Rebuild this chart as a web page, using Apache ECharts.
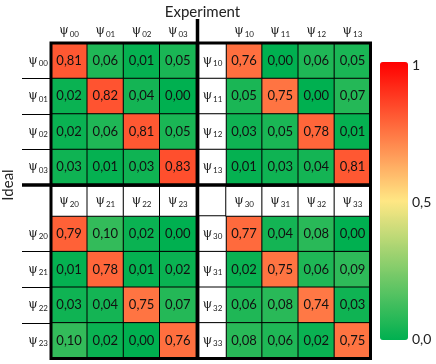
<!DOCTYPE html>
<html>
<head>
<meta charset="utf-8">
<script src="https://cdn.jsdelivr.net/npm/echarts@6/dist/echarts.min.js"></script>
<style>
html, body { margin: 0; padding: 0; background: #fff; }
#chart { width: 436px; height: 364px; }
</style>
</head>
<body>
<div id="chart"></div>
<script>
// subscripts of the basis states, per block
var psi0 = ['00', '01', '02', '03'];
var psi1 = ['10', '11', '12', '13'];
var psi2 = ['20', '21', '22', '23'];
var psi3 = ['30', '31', '32', '33'];

// rows = ideal state (top to bottom), columns = measured state
var blockTL = [
    [0.81, 0.06, 0.01, 0.05],
    [0.02, 0.82, 0.04, 0.00],
    [0.02, 0.06, 0.81, 0.05],
    [0.03, 0.01, 0.03, 0.83]
];
var blockTR = [
    [0.76, 0.00, 0.06, 0.05],
    [0.05, 0.75, 0.00, 0.07],
    [0.03, 0.05, 0.78, 0.01],
    [0.01, 0.03, 0.04, 0.81]
];
var blockBL = [
    [0.79, 0.10, 0.02, 0.00],
    [0.01, 0.78, 0.01, 0.02],
    [0.03, 0.04, 0.75, 0.07],
    [0.10, 0.02, 0.00, 0.76]
];
var blockBR = [
    [0.77, 0.04, 0.08, 0.00],
    [0.02, 0.75, 0.06, 0.09],
    [0.06, 0.08, 0.74, 0.03],
    [0.08, 0.06, 0.02, 0.75]
];
var scaleTicks = [0, 0.5, 1];

// layout
var X0 = 51, XM = 197.5, X1 = 226, XR = 370.5;
var Y0 = 43, YM = 185, Y1 = 216, YB = 358.5;
var LAB = 22;

var chart = echarts.init(document.getElementById('chart'));

var psiRich = {
    p: { fontFamily: 'DejaVu Serif', fontSize: 12, color: '#222' },
    s: { fontFamily: 'Lato', fontSize: 8, color: '#222', padding: [6, 0, 0, 1] }
};
function psi(sub) {
    return '{p|ψ}{s|' + sub + '}';
}
function fmt(v) {
    return v.toFixed(2).replace('.', ',');
}
function toCells(rows) {
    var out = [];
    rows.forEach(function (row, r) {
        row.forEach(function (v, c) { out.push([c, r, v]); });
    });
    return out;
}

var grids = [], xAxes = [], yAxes = [], series = [];

function addGrid(box) {
    box.outerBoundsMode = 'none';
    grids.push(box);
    return grids.length - 1;
}
function cat(gi, data, extra) {
    var a = {
        type: 'category', gridIndex: gi, data: data,
        axisLine: { show: false }, axisTick: { show: false },
        axisLabel: { show: false }, splitLine: { show: false }, splitArea: { show: false }
    };
    return Object.assign(a, extra || {});
}

// value blocks
function addBlock(box, rows, cols, rowNames, topLabels) {
    var gi = addGrid(box);
    xAxes.push(cat(gi, cols, topLabels ? {
        position: 'top',
        axisLabel: { show: true, interval: 0, margin: 5, formatter: psi, rich: psiRich }
    } : {}));
    yAxes.push(cat(gi, rowNames, { inverse: true }));
    series.push({
        type: 'heatmap', xAxisIndex: xAxes.length - 1, yAxisIndex: yAxes.length - 1,
        data: toCells(rows),
        itemStyle: { borderColor: '#000', borderWidth: 1 },
        label: {
            show: true, fontFamily: 'Lato', fontSize: 13, color: '#111',
            formatter: function (p) { return fmt(p.data[2]); }
        },
        emphasis: { disabled: true }
    });
}
addBlock({ left: X0, top: Y0, width: XM - 1.5 - X0, height: YM - Y0 }, blockTL, psi0, psi0, true);
addBlock({ left: X1, top: Y0, width: XR - X1, height: YM - Y0 }, blockTR, psi1, psi1, true);
addBlock({ left: X0, top: Y1, width: XM - 1.5 - X0, height: YB - Y1 }, blockBL, psi2, psi2, false);
addBlock({ left: X1, top: Y1, width: XR - X1, height: YB - Y1 }, blockBR, psi3, psi3, false);

// white label cells inside the frame
function addLabelCells(box, names, vertical) {
    var gi = addGrid(box);
    xAxes.push(cat(gi, vertical ? ['a'] : names));
    yAxes.push(cat(gi, vertical ? names : ['a'], { inverse: true }));
    series.push({
        type: 'heatmap', xAxisIndex: xAxes.length - 1, yAxisIndex: yAxes.length - 1,
        data: names.map(function (n, i) { return vertical ? [0, i, 0] : [i, 0, 0]; }),
        itemStyle: { color: '#fff', borderColor: '#000', borderWidth: 1 },
        label: {
            show: true, rich: psiRich,
            formatter: function (p) { return psi(names[vertical ? p.data[1] : p.data[0]]); }
        },
        emphasis: { disabled: true }
    });
}
addLabelCells({ left: XM + 1.5, top: Y0, width: X1 - XM - 1.5, height: YM - Y0 }, psi1, true);
addLabelCells({ left: XM + 1.5, top: Y1, width: X1 - XM - 1.5, height: YB - Y1 }, psi3, true);
addLabelCells({ left: X0, top: YM + 1.5, width: XM - 1.5 - X0, height: Y1 - YM - 1.5 }, psi2, false);
addLabelCells({ left: X1, top: YM + 1.5, width: XR - X1, height: Y1 - YM - 1.5 }, psi3, false);

// row labels left of the frame, with separators
function addLeftLabels(box, names) {
    var gi = addGrid(box);
    xAxes.push(cat(gi, ['a']));
    yAxes.push(cat(gi, names, {
        inverse: true, position: 'right',
        axisLabel: { show: true, interval: 0, inside: true, margin: 3, formatter: psi, rich: psiRich },
        splitLine: {
            show: true, interval: 0, showMinLine: false, showMaxLine: false,
            lineStyle: { color: '#000', width: 1 }
        }
    }));
}
addLeftLabels({ left: LAB, top: Y0, width: X0 - LAB, height: YM - Y0 }, psi0);
addLeftLabels({ left: LAB, top: Y1, width: X0 - LAB, height: YB - Y1 }, psi2);

// colour scale axis
var gs = addGrid({ left: 380, top: 65, width: 28, height: 274 });
xAxes.push({ type: 'value', gridIndex: gs, show: false });
yAxes.push({
    type: 'value', gridIndex: gs, min: 0, max: 1, interval: 0.5, position: 'right',
    axisLine: { show: false }, axisTick: { show: false }, splitLine: { show: false },
    axisLabel: {
        margin: 4, fontFamily: 'Lato', fontSize: 14, color: '#222',
        formatter: function (v) {
            return scaleTicks.indexOf(v) < 0 ? '' : (v === 1 ? '1' : v.toFixed(1).replace('.', ','));
        }
    }
});

var option = {
    animation: false,
    backgroundColor: '#fff',
    textStyle: { fontFamily: 'Lato' },
    title: {
        text: 'Experiment', left: XM, top: 0, textAlign: 'center',
        textStyle: { fontFamily: 'Lato', fontSize: 15, fontWeight: 'normal', color: '#222' }
    },
    grid: grids,
    xAxis: xAxes,
    yAxis: yAxes,
    visualMap: {
        type: 'continuous', min: 0, max: 1, seriesIndex: [0, 1, 2, 3],
        calculable: false, hoverLink: false,
        left: 380, top: 62, itemWidth: 28, itemHeight: 278, padding: 0,
        inRange: { color: ['#00b050', '#ffe784', '#ff0000'] }
    },
    series: series,
    graphic: [
        {
            type: 'rect', z: 100, silent: true,
            shape: { x: X0, y: Y0, width: XR - X0, height: YB - Y0 },
            style: { fill: null, stroke: '#000', lineWidth: 3 }
        },
        {
            type: 'line', z: 100, silent: true,
            shape: { x1: XM, y1: 19, x2: XM, y2: YB },
            style: { stroke: '#000', lineWidth: 3.5 }
        },
        {
            type: 'line', z: 100, silent: true,
            shape: { x1: LAB, y1: YM, x2: XR, y2: YM },
            style: { stroke: '#000', lineWidth: 3.5 }
        },
        {
            type: 'text', z: 100, silent: true,
            x: 8, y: YM, rotation: Math.PI / 2,
            style: {
                text: 'Ideal', fontFamily: 'Lato', fontSize: 15, fill: '#222',
                align: 'center', verticalAlign: 'middle'
            }
        }
    ]
};

chart.setOption(option);
</script>
</body>
</html>
